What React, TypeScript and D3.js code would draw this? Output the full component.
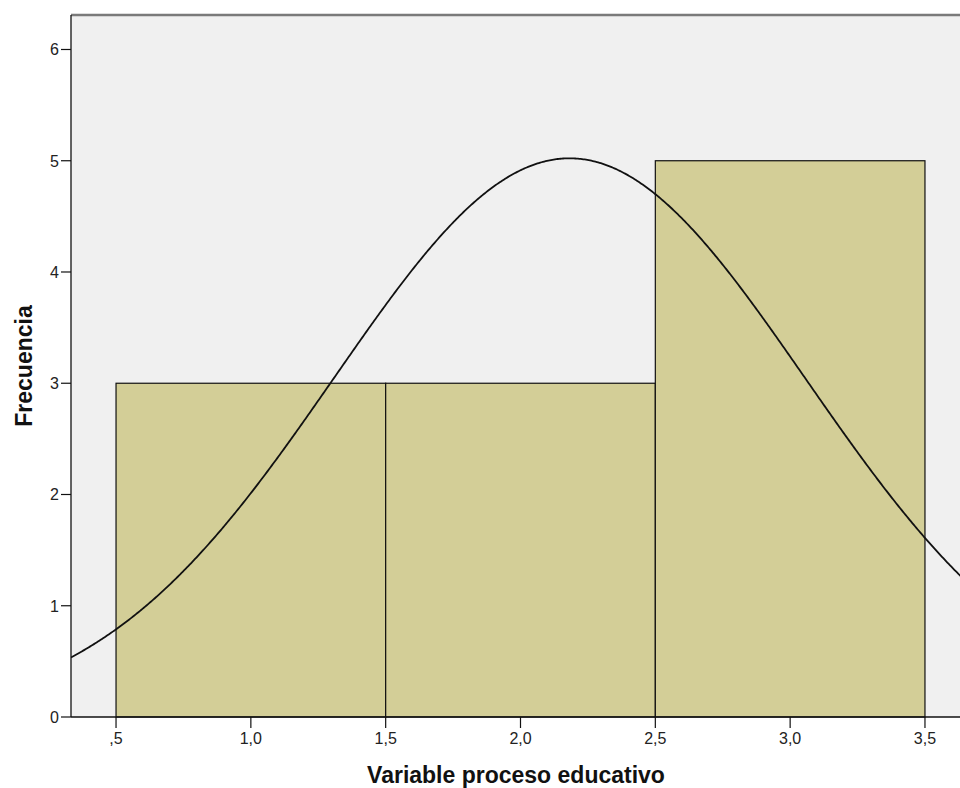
import React from "react";
import * as d3 from "d3";

const binStarts = [0.5, 1.5, 2.5];
const binEnds = [1.5, 2.5, 3.5];
const binMids = [1, 2, 3];
const frequencies = [3, 3, 5];
const xTicks = [0.5, 1.0, 1.5, 2.0, 2.5, 3.0, 3.5];
const xTickLabels = [",5", "1,0", "1,5", "2,0", "2,5", "3,0", "3,5"];
const yTicks = [0, 1, 2, 3, 4, 5, 6];
const xTitle = "Variable proceso educativo";
const yTitle = "Frecuencia";

export default function App() {
  const W = 960, H = 788;
  const left = 71, top = 15, bottom = 717, right = 970;
  const x = d3.scaleLinear().domain([0.333, 3.667]).range([left, right]);
  const y = d3.scaleLinear().domain([0, 6.31]).range([bottom, top]);

  const n = d3.sum(frequencies);
  const mean = d3.sum(binMids.map((m, i) => m * frequencies[i])) / n;
  const variance =
    d3.sum(binMids.map((m, i) => frequencies[i] * (m - mean) ** 2)) / (n - 1);
  const sd = Math.sqrt(variance);
  const binW = 1;
  const pts = d3.range(0.333, 3.67, 0.005).map((v) => [
    v,
    (n * binW * Math.exp(-0.5 * ((v - mean) / sd) ** 2)) / (sd * Math.sqrt(2 * Math.PI)),
  ]);
  const line = d3
    .line<number[]>()
    .x((d) => x(d[0]))
    .y((d) => y(d[1]))
    .curve(d3.curveLinear);

  const font = "'Liberation Sans', Arial, sans-serif";

  return (
    <svg
      width={W}
      height={H}
      style={{ position: "absolute", left: 0, top: 0, background: "#fff" }}
      fontFamily={font}
    >
      <defs>
        <clipPath id="plot">
          <rect x={left} y={top} width={right - left} height={bottom - top} />
        </clipPath>
      </defs>
      <rect x={left} y={top} width={right - left} height={bottom - top} fill="#f0f0f0" />
      <line x1={left} x2={right} y1={top} y2={top} stroke="#7a7a7a" strokeWidth={2.5} />
      {binStarts.map((s, i) => (
        <rect
          key={i}
          x={x(s)}
          y={y(frequencies[i])}
          width={x(binEnds[i]) - x(s)}
          height={y(0) - y(frequencies[i])}
          fill="#d3ce97"
          stroke="#111"
          strokeWidth={1.2}
        />
      ))}
      <path
        d={line(pts) || ""}
        fill="none"
        stroke="#111"
        strokeWidth={1.8}
        clipPath="url(#plot)"
      />
      {/* axes */}
      <line x1={left} x2={left} y1={top} y2={bottom} stroke="#111" strokeWidth={1.3} />
      <line x1={left} x2={right} y1={bottom} y2={bottom} stroke="#111" strokeWidth={1.3} />
      {yTicks.map((t) => (
        <g key={t}>
          <line x1={left - 10} x2={left} y1={y(t)} y2={y(t)} stroke="#111" strokeWidth={1.2} />
          <text x={left - 12} y={y(t)} dy="0.36em" textAnchor="end" fontSize={16} fill="#222">
            {t}
          </text>
        </g>
      ))}
      {xTicks.map((t, i) => (
        <g key={t}>
          <line x1={x(t)} x2={x(t)} y1={bottom} y2={bottom + 11} stroke="#111" strokeWidth={1.2} />
          <text x={x(t)} y={bottom + 27} textAnchor="middle" fontSize={16} fill="#222">
            {xTickLabels[i]}
          </text>
        </g>
      ))}
      <text
        x={516}
        y={783}
        textAnchor="middle"
        fontSize={23}
        fontWeight="bold"
        fill="#111"
      >
        {xTitle}
      </text>
      <text
        transform={`translate(32, ${366}) rotate(-90)`}
        textAnchor="middle"
        fontSize={23}
        fontWeight="bold"
        fill="#111"
      >
        {yTitle}
      </text>
    </svg>
  );
}
